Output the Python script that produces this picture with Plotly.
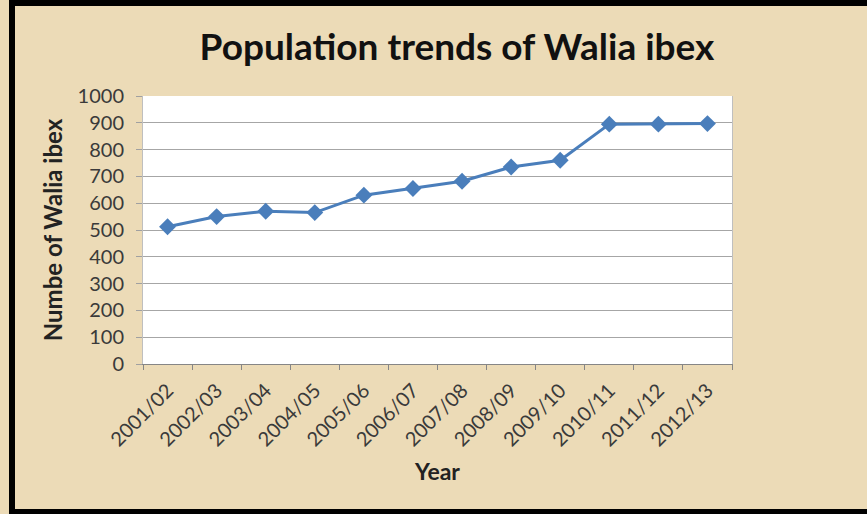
import plotly.graph_objects as go

years = ["2001/02", "2002/03", "2003/04", "2004/05", "2005/06", "2006/07",
         "2007/08", "2008/09", "2009/10", "2010/11", "2011/12", "2012/13"]
population = [512, 550, 570, 565, 630, 655, 682, 735, 760, 895, 895, 897]
y_ticks = [0, 100, 200, 300, 400, 500, 600, 700, 800, 900, 1000]

W, H = 867, 514
L, R, T, B = 143, 135, 96, 150
PW, PH = W - L - R, H - T - B


def px(x):
    return (x - L) / PW


def py(y):
    return (H - B - y) / PH


fig = go.Figure()
fig.add_trace(go.Scatter(
    x=years, y=population, mode="lines+markers",
    line=dict(color="#4A7EBB", width=3),
    marker=dict(symbol="diamond", size=13, color="#4A7EBB"),
    showlegend=False,
))

border = dict(type="rect", xref="paper", yref="paper", fillcolor="black",
              line=dict(width=0), layer="above")
shapes = [
    dict(border, x0=px(9), x1=px(15), y0=py(0), y1=py(H)),
    dict(border, x0=px(9), x1=px(W), y0=py(0), y1=py(6)),
    dict(border, x0=px(9), x1=px(W), y0=py(509), y1=py(H)),
]

fig.update_layout(
    width=W, height=H,
    margin=dict(l=L, r=R, t=T, b=B, autoexpand=False),
    paper_bgcolor="#ECDBB7",
    plot_bgcolor="white",
    font=dict(family="Lato", color="#3a3a3a"),
    title=dict(text="<b>Population trends of Walia ibex</b>",
               font=dict(family="Lato", size=37, color="#111111"),
               x=457 / W, xanchor="center", xref="container",
               y=1 - 47 / H, yanchor="middle", yref="container"),
    shapes=shapes,
    xaxis=dict(
        type="category", range=[-0.5, len(years) - 0.5],
        tickangle=-45, tickson="boundaries",
        ticks="outside", ticklen=5, tickcolor="#868686",
        ticklabelstandoff=6,
        showline=True, linecolor="#868686", linewidth=1, mirror=False,
        showgrid=False, tickfont=dict(size=20, color="#3a3a3a"),
        title=dict(text="<b>Year</b>", font=dict(size=23, color="#222222"), standoff=14),
        automargin=False,
    ),
    yaxis=dict(
        range=[0, 1000], tickvals=y_ticks, ticks="outside", ticklen=6,
        tickcolor="#A0A0A0", showgrid=True, gridcolor="#A6A6A6", gridwidth=1,
        ticklabelstandoff=8,
        showline=True, linecolor="#BFBFBF", linewidth=1, mirror=True,
        zeroline=False, tickfont=dict(size=20, color="#3a3a3a"),
        title=dict(text="<b>Numbe of Walia ibex</b>", font=dict(size=24, color="#222222"), standoff=8),
        automargin=False,
    ),
)

fig.write_html("out.html")
